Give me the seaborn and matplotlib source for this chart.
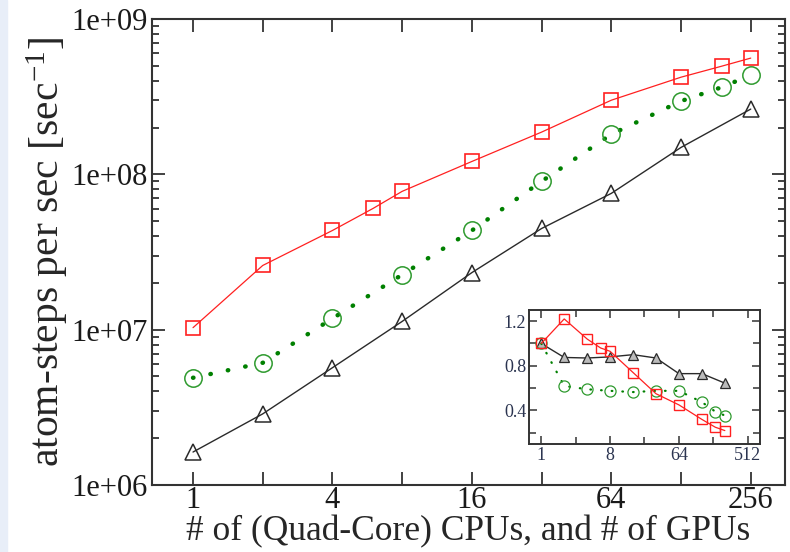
import numpy as np
import pandas as pd
import seaborn as sns
import matplotlib.pyplot as plt
from matplotlib.ticker import FixedLocator, FixedFormatter, NullFormatter
from matplotlib.patches import Rectangle

sns.set_style('ticks')
plt.rcParams['font.family'] = ['Liberation Serif', 'DejaVu Serif']
plt.rcParams['mathtext.default'] = 'regular'

# main panel: atom-steps per second
n_red = [1, 2, 4, 6, 8, 16, 32, 64, 128, 192, 256]
rate_red = [1.03e7, 2.59e7, 4.35e7, 6.04e7, 7.77e7, 1.21e8, 1.87e8, 3.0e8, 4.22e8, 4.97e8, 5.6e8]

n_green = [1, 2, 4, 8, 16, 32, 64, 128, 192, 256]
rate_green = [4.9e6, 6.12e6, 1.18e7, 2.26e7, 4.35e7, 9.01e7, 1.81e8, 2.96e8, 3.64e8, 4.35e8]

n_black = [1, 2, 4, 8, 16, 32, 64, 128, 256]
rate_black = [1.63e6, 2.87e6, 5.69e6, 1.13e7, 2.33e7, 4.48e7, 7.54e7, 1.49e8, 2.63e8]

# inset: efficiency
eff_red = [1.0, 1.22, 1.04, 0.96, 0.93, 0.74, 0.55, 0.45, 0.32, 0.25, 0.22]
eff_green = [1.0, 0.62, 0.59, 0.576, 0.565, 0.576, 0.576, 0.475, 0.39, 0.355]
eff_black = [1.0, 0.875, 0.87, 0.88, 0.90, 0.87, 0.73, 0.73, 0.645]

x_ticks = [1, 2, 4, 8, 16, 32, 64, 128, 256]
x_labels = ['1', '', '4', '', '16', '', '64', '', '256']
y_ticks = [1e6, 1e7, 1e8, 1e9]
y_labels = ['1e+06', '1e+07', '1e+08', '1e+09']

in_x_ticks = [1, 8, 64, 512]
in_x_labels = ['1', '8', '64', '512']
in_y_ticks = [0.4, 0.8, 1.2]
in_y_labels = ['0.4', '0.8', '1.2']

RED = '#ff2020'
GREEN = '#2e9a2e'
DKGREEN = '#008000'
BLACK = '#2a2a2a'

fig = plt.figure(figsize=(7.9, 5.52), dpi=100)
fig.patches.append(Rectangle((0, 0), 7 / 790, 1, transform=fig.transFigure,
                             color='#e8eef8', zorder=-1))
ax = fig.add_axes([0.1924, 0.1214, 0.8013, 0.8442])

df_r = pd.DataFrame({'n': n_red, 'rate': rate_red})
df_g = pd.DataFrame({'n': n_green, 'rate': rate_green})
df_b = pd.DataFrame({'n': n_black, 'rate': rate_black})

sns.lineplot(data=df_r, x='n', y='rate', ax=ax, color=RED, linewidth=0.9,
             marker='s', markersize=10.6, markerfacecolor='none',
             markeredgecolor=RED, markeredgewidth=1.2)
sns.lineplot(data=df_g, x='n', y='rate', ax=ax, color=DKGREEN, linewidth=3.2,
             linestyle=(0, (0.1, 3.9)), dash_capstyle='round')
sns.lineplot(data=df_g, x='n', y='rate', ax=ax, color=GREEN, linewidth=0,
             marker='o', markersize=12.5, markerfacecolor='none',
             markeredgecolor=GREEN, markeredgewidth=1.1)
sns.lineplot(data=df_b, x='n', y='rate', ax=ax, color=BLACK, linewidth=1.0,
             marker='^', markersize=12, markerfacecolor='none',
             markeredgecolor=BLACK, markeredgewidth=1.1)

ax.set_xscale('log', base=2)
ax.set_yscale('log')
ax.set_xlim(0.665, 360)
ax.set_ylim(1e6, 1e9)
ax.xaxis.set_major_locator(FixedLocator(x_ticks))
ax.xaxis.set_major_formatter(FixedFormatter(x_labels))
ax.xaxis.set_minor_locator(FixedLocator([]))
ax.yaxis.set_major_locator(FixedLocator(y_ticks))
ax.yaxis.set_major_formatter(FixedFormatter(y_labels))
ax.yaxis.set_minor_locator(FixedLocator(
    [m * 10 ** e for e in range(6, 9) for m in range(2, 10)]))
ax.yaxis.set_minor_formatter(NullFormatter())
ax.tick_params(which='both', direction='in', top=True, right=True,
               color='#333333', width=1.3, labelsize=22, labelcolor='#1a1a1a')
ax.tick_params(which='major', length=9.5)
ax.tick_params(which='minor', length=5)
ax.tick_params(axis='x', pad=1)
ax.tick_params(axis='y', pad=3)
for s in ax.spines.values():
    s.set_linewidth(1.5)
    s.set_color('#333333')
ax.set_xlabel('# of (Quad-Core) CPUs, and # of GPUs', fontsize=25.5, labelpad=0)
ax.set_ylabel('atom-steps per sec [sec$^{-1}$]', fontsize=30, labelpad=1)

# inset
ins = fig.add_axes([0.6696, 0.1957, 0.2924, 0.2427])
di_r = pd.DataFrame({'n': n_red, 'eff': eff_red})
di_g = pd.DataFrame({'n': n_green, 'eff': eff_green})
di_b = pd.DataFrame({'n': n_black, 'eff': eff_black})
sns.lineplot(data=di_b, x='n', y='eff', ax=ins, color=BLACK, linewidth=1.0,
             marker='^', markersize=7.5, markerfacecolor='#bbbbbb',
             markeredgecolor=BLACK, markeredgewidth=0.9)
sns.lineplot(data=di_g, x='n', y='eff', ax=ins, color=DKGREEN, linewidth=1.6,
             linestyle=(0, (0.3, 4.5)), dash_capstyle='round')
sns.lineplot(data=di_g, x='n', y='eff', ax=ins, color=GREEN, linewidth=0,
             marker='o', markersize=8, markerfacecolor='none',
             markeredgecolor=GREEN, markeredgewidth=0.9)
sns.lineplot(data=di_r, x='n', y='eff', ax=ins, color=RED, linewidth=0.9,
             marker='s', markersize=7, markerfacecolor='none',
             markeredgecolor=RED, markeredgewidth=1.0)
ins.set_xscale('log', base=2)
ins.set_xlim(0.69, 740)
ins.set_ylim(0.1, 1.3)
ins.xaxis.set_major_locator(FixedLocator(in_x_ticks))
ins.xaxis.set_major_formatter(FixedFormatter(in_x_labels))
ins.xaxis.set_minor_locator(FixedLocator([2.83, 22.6, 181]))
ins.xaxis.set_minor_formatter(NullFormatter())
ins.yaxis.set_major_locator(FixedLocator(in_y_ticks))
ins.yaxis.set_major_formatter(FixedFormatter(in_y_labels))
ins.yaxis.set_minor_locator(FixedLocator([0.2, 0.6, 1.0]))
ins.tick_params(which='both', direction='in', top=True, right=True,
                color='#333333', width=1.1, labelsize=13, labelcolor='#2b3450',
                pad=2)
ins.tick_params(which='major', length=6)
ins.tick_params(which='minor', length=5)
for s in ins.spines.values():
    s.set_linewidth(1.4)
    s.set_color('#333333')
ins.set_xlabel('')
ins.set_ylabel('')

fig.savefig('out.png', dpi=100)
